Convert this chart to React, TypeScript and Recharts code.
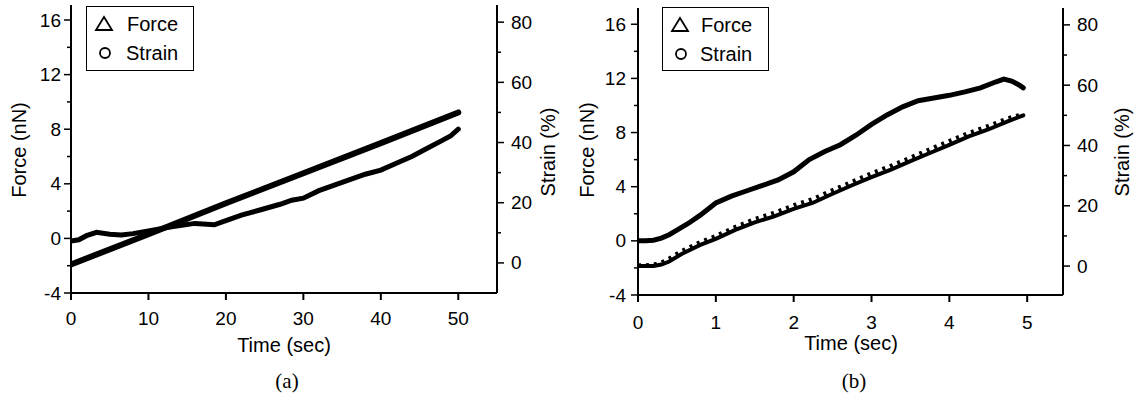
import React from "react";
import { LineChart, Line, XAxis, YAxis, Legend } from "recharts";

// panel (a)
const timeForceA = [0, 1, 2, 3.3, 5, 6.5, 8, 10, 13, 16, 18.5, 20, 22, 24.5, 27, 28.5, 30, 32, 34, 36, 38, 40, 42, 44, 46, 48, 49, 50];
const forceA = [-0.2, -0.1, 0.2, 0.45, 0.3, 0.25, 0.35, 0.55, 0.85, 1.1, 1.0, 1.3, 1.7, 2.1, 2.5, 2.8, 2.95, 3.5, 3.9, 4.3, 4.7, 5.0, 5.5, 6.0, 6.6, 7.2, 7.5, 8.0];
const timeStrainA = [0, 10, 20, 30, 40, 50];
const strainA = [-0.5, 9.5, 19.8, 29.8, 39.8, 50];

// panel (b)
const timeForceB = [0, 0.1, 0.2, 0.3, 0.4, 0.5, 0.65, 0.8, 1.0, 1.2, 1.4, 1.6, 1.8, 2.0, 2.2, 2.4, 2.6, 2.8, 3.0, 3.2, 3.4, 3.6, 3.8, 4.0, 4.2, 4.4, 4.6, 4.7, 4.8, 4.9, 4.95];
const forceB = [0, 0, 0.05, 0.2, 0.45, 0.8, 1.3, 1.9, 2.8, 3.3, 3.7, 4.1, 4.5, 5.1, 6.0, 6.6, 7.1, 7.8, 8.6, 9.3, 9.9, 10.35, 10.55, 10.75, 11.0, 11.3, 11.75, 11.95, 11.8, 11.5, 11.3];
const timeStrainB = [0, 0.1, 0.2, 0.3, 0.4, 0.56, 0.8, 1.0, 1.25, 1.5, 1.75, 2.0, 2.25, 2.5, 2.75, 3.0, 3.25, 3.5, 3.75, 4.0, 4.25, 4.5, 4.75, 4.95];
const strainB = [0, 0, 0, 0.5, 1.5, 4, 7, 9, 12, 14.5, 16.5, 19, 21, 24, 26.8, 29.5, 32, 34.8, 37.5, 40.2, 43, 45.3, 48, 50];
const strainMarkB = [0.3, 0.3, 0.5, 1.2, 2.5, 5, 8, 10, 13, 15.6, 17.7, 20.2, 22.3, 25.2, 28, 30.8, 33.3, 36, 38.8, 41.5, 44.2, 46.5, 49, 50.5];

const forceTicks = [-4, -2, 0, 2, 4, 6, 8, 10, 12, 14, 16];
const strainTicks = [0, 10, 20, 30, 40, 50, 60, 70, 80];
const timeTicksA = [0, 10, 20, 30, 40, 50];
const timeTicksB = [0, 1, 2, 3, 4, 5];

const zip = (xs: number[], ys: number[]) => xs.map((t, i) => ({ t, v: ys[i] }));

const FONT = "'Liberation Sans', Arial, Helvetica, sans-serif";
const SERIF = "'Liberation Serif', 'Times New Roman', serif";

const LeftTick = (gap: number) => (props: any) => {
  const { x, y, payload } = props;
  const major = payload.value % 4 === 0;
  return (
    <g>
      <line x1={x} x2={x - (major ? 7 : 4)} y1={y} y2={y} stroke="#000" strokeWidth={1.5} />
      {major && (
        <text x={x - gap} y={y} textAnchor="end" dominantBaseline="central" fontSize={19} fontFamily={FONT} fill="#000">
          {payload.value}
        </text>
      )}
    </g>
  );
};

const RightTick = (props: any) => {
  const { x, y, payload } = props;
  const major = payload.value % 20 === 0;
  return (
    <g>
      <line x1={x} x2={x + (major ? 7 : 4)} y1={y} y2={y} stroke="#000" strokeWidth={1.5} />
      {major && (
        <text x={x + 14} y={y} textAnchor="start" dominantBaseline="central" fontSize={19} fontFamily={FONT} fill="#000">
          {payload.value}
        </text>
      )}
    </g>
  );
};

const BottomTick = (dy: number) => (props: any) => {
  const { x, y, payload } = props;
  return (
    <g>
      <line x1={x} x2={x} y1={y} y2={y + 7} stroke="#000" strokeWidth={2} />
      <text x={x} y={y + dy} textAnchor="middle" dominantBaseline="central" fontSize={19} fontFamily={FONT} fill="#000">
        {payload.value}
      </text>
    </g>
  );
};

const title = (text: string, x: number, y: number, rotate: boolean) => () => (
  <text
    x={x}
    y={y}
    textAnchor="middle"
    dominantBaseline="central"
    fontSize={20}
    fontFamily={FONT}
    fill="#000"
    transform={rotate ? `rotate(-90 ${x} ${y})` : undefined}
  >
    {text}
  </text>
);

// x-axis title plus the panel tag below it
const bottomTitles = (x: number, y: number, tag: string) => () => (
  <g>
    <text x={x} y={y} textAnchor="middle" dominantBaseline="central" fontSize={20} fontFamily={FONT} fill="#000">
      Time (sec)
    </text>
    <text x={x + 3} y={381} textAnchor="middle" dominantBaseline="central" fontSize={21} fontFamily={SERIF} fill="#000">
      {tag}
    </text>
  </g>
);

const legendBox = (triX: number, textX: number) => () => (
  <div
    style={{
      width: "100%",
      height: "100%",
      boxSizing: "border-box",
      border: "1.5px solid #000",
      background: "#fff",
      position: "relative",
      fontFamily: FONT,
      fontSize: 20,
      color: "#000",
    }}
  >
    <svg width={30} height={60} style={{ position: "absolute", left: 0, top: 0 }}>
      <polygon points={`${triX},10 ${triX - 8},23 ${triX + 8},23`} fill="none" stroke="#000" strokeWidth={1.8} />
      <circle cx={triX + 1} cy={46} r={5} fill="none" stroke="#000" strokeWidth={1.8} />
    </svg>
    <div style={{ position: "absolute", left: textX, top: 5, lineHeight: "24px" }}>Force</div>
    <div style={{ position: "absolute", left: textX - 1, top: 34, lineHeight: "24px" }}>Strain</div>
  </div>
);

export default function App() {
  const axisLine = { stroke: "#000", strokeWidth: 2 };
  return (
    <div style={{ position: "absolute", left: 0, top: 0, width: 1137, height: 401, background: "#fff" }}>
      <div style={{ position: "absolute", left: 0, top: 0 }}>
        <LineChart width={566} height={401} margin={{ top: 5, right: 0, bottom: 0, left: 0 }}>
          <XAxis
            type="number"
            dataKey="t"
            domain={[0, 55]}
            ticks={timeTicksA}
            allowDataOverflow
            height={108}
            axisLine={axisLine}
            tickLine={false}
            tickSize={0}
            tickMargin={0}
            tick={BottomTick(25)}
            interval={0}
            label={{ content: bottomTitles(284, 345, "(a)") }}
          />
          <YAxis
            yAxisId="left"
            orientation="left"
            width={71}
            domain={[-4, 17.1]}
            ticks={forceTicks}
            allowDataOverflow
            axisLine={axisLine}
            tickLine={false}
            tickSize={0}
            tickMargin={0}
            tick={LeftTick(10)}
            interval={0}
            label={{ content: title("Force (nN)", 19, 150, true) }}
          />
          <YAxis
            yAxisId="right"
            orientation="right"
            width={69}
            domain={[-10, 85.7]}
            ticks={strainTicks}
            allowDataOverflow
            axisLine={axisLine}
            tickLine={false}
            tickSize={0}
            tickMargin={0}
            tick={RightTick}
            interval={0}
            label={{ content: title("Strain (%)", 548, 152, true) }}
          />
          <Legend
            layout="vertical"
            align="center"
            verticalAlign="middle"
            content={legendBox(17, 40)}
            wrapperStyle={{ position: "absolute", left: 86, top: 6, width: 108, height: 65 }}
          />
          <Line
            data={zip(timeStrainA, strainA)}
            dataKey="v"
            yAxisId="right"
            type="linear"
            stroke="#000"
            strokeWidth={6}
            strokeLinecap="round"
            dot={false}
            legendType="none"
            isAnimationActive={false}
          />
          <Line
            data={zip(timeForceA, forceA)}
            dataKey="v"
            yAxisId="left"
            type="linear"
            stroke="#000"
            strokeWidth={5}
            strokeLinecap="round"
            dot={false}
            legendType="none"
            isAnimationActive={false}
          />
        </LineChart>
      </div>

      <div style={{ position: "absolute", left: 566, top: 0 }}>
        <LineChart width={571} height={401} margin={{ top: 8, right: 0, bottom: 0, left: 0 }}>
          <XAxis
            type="number"
            dataKey="t"
            domain={[0, 5.46]}
            ticks={timeTicksB}
            allowDataOverflow
            height={106}
            axisLine={axisLine}
            tickLine={false}
            tickSize={0}
            tickMargin={0}
            tick={BottomTick(27)}
            interval={0}
            label={{ content: bottomTitles(285, 343, "(b)") }}
          />
          <YAxis
            yAxisId="left"
            orientation="left"
            width={72}
            domain={[-4, 17.2]}
            ticks={forceTicks}
            allowDataOverflow
            axisLine={axisLine}
            tickLine={false}
            tickSize={0}
            tickMargin={0}
            tick={LeftTick(12)}
            interval={0}
            label={{ content: title("Force (nN)", 21, 150, true) }}
          />
          <YAxis
            yAxisId="right"
            orientation="right"
            width={74}
            domain={[-9.6, 85.6]}
            ticks={strainTicks}
            allowDataOverflow
            axisLine={axisLine}
            tickLine={false}
            tickSize={0}
            tickMargin={0}
            tick={RightTick}
            interval={0}
            label={{ content: title("Strain (%)", 556, 152, true) }}
          />
          <Legend
            layout="vertical"
            align="center"
            verticalAlign="middle"
            content={legendBox(17, 38)}
            wrapperStyle={{ position: "absolute", left: 96, top: 7, width: 107, height: 64 }}
          />
          <Line
            data={zip(timeStrainB, strainB)}
            dataKey="v"
            yAxisId="right"
            type="linear"
            stroke="#000"
            strokeWidth={4}
            strokeLinecap="round"
            dot={false}
            legendType="none"
            isAnimationActive={false}
          />
          <Line
            data={zip(timeStrainB, strainMarkB)}
            dataKey="v"
            yAxisId="right"
            type="linear"
            stroke="#000"
            strokeWidth={4}
            strokeDasharray="3 5"
            dot={false}
            legendType="none"
            isAnimationActive={false}
          />
          <Line
            data={zip(timeForceB, forceB)}
            dataKey="v"
            yAxisId="left"
            type="linear"
            stroke="#000"
            strokeWidth={5}
            strokeLinecap="round"
            dot={false}
            legendType="none"
            isAnimationActive={false}
          />
        </LineChart>
      </div>
    </div>
  );
}
